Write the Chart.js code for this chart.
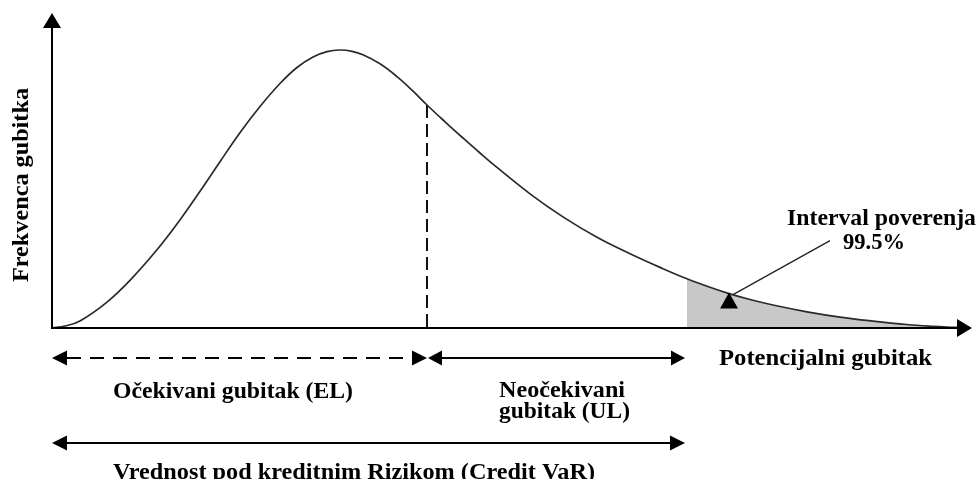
<!DOCTYPE html>
<html>
<head>
<meta charset="utf-8">
<script src="https://cdn.jsdelivr.net/npm/chart.js@4/dist/chart.umd.min.js"></script>
<style>
  html, body { margin: 0; padding: 0; background: #fff; }
  #wrap { width: 977px; height: 479px; position: relative; }
</style>
</head>
<body>
<div id="wrap"><canvas id="c"></canvas></div>
<script>
// ---- data ----
const lossX = [0, 1.41, 3.04, 5.98, 8.48, 11.41, 13.91, 16.09, 18.26, 20.43, 22.61, 24.78, 26.63, 28.37, 29.89, 31.30, 32.61, 33.80, 35.65, 37.50, 39.13, 40.76, 42.72, 44.67, 46.52, 48.37, 51.96, 55.54, 59.24, 62.83, 66.41, 69.02, 71.52, 73.59, 75.87, 78.37, 82.07, 85.65, 89.24, 92.93, 95.76, 98.15, 99.46];
const freqY = [0, 0.63, 2.22, 8.22, 15.14, 24.83, 34.32, 43.40, 52.79, 62.00, 70.32, 77.62, 82.70, 86.03, 87.75, 88.25, 87.84, 86.73, 83.87, 79.81, 75.52, 70.79, 65.46, 60.32, 55.56, 50.98, 42.60, 35.27, 28.79, 23.56, 18.83, 15.62, 12.92, 10.92, 9.05, 7.30, 5.14, 3.46, 2.19, 1.11, 0.54, 0.19, 0];
const expectedLoss = 40.76;  // EL boundary (dashed line)
const creditVaR = 69.02;     // start of the 99.5% tail
const pointerAt = [73.59, 10.92];
const axisMax = 100;
const freqMax = 100;

const yAxisTitle = "Frekvenca gubitka";
const xAxisTitle = "Potencijalni gubitak";
const tailLabel = ["Interval poverenja", "99.5%"];
const elLabel = "Očekivani gubitak (EL)";
const ulLabel = ["Neočekivani", "gubitak (UL)"];
const varLabel = "Vrednost pod kreditnim Rizikom (Credit VaR)";

// ---- derived datasets ----
const curve = lossX.map((x, i) => ({ x, y: freqY[i] }));
const tail = curve.filter(p => p.x >= creditVaR);
const elIdx = lossX.indexOf(expectedLoss);
const elLine = [{ x: expectedLoss, y: freqY[elIdx] }, { x: expectedLoss, y: 0 }];

const FONT = "bold 23px 'Liberation Serif', 'Times New Roman', serif";

function stretchText(ctx, text, left, baseline, width) {
  ctx.save();
  ctx.font = FONT;
  ctx.textBaseline = 'alphabetic';
  ctx.textAlign = 'left';
  const w = ctx.measureText(text).width;
  ctx.translate(left, baseline);
  ctx.scale(width / w, 1);
  ctx.fillStyle = '#000';
  ctx.fillText(text, 0, 0);
  ctx.restore();
}

function head(ctx, tx, ty, dx, dy, len, hw) {
  const bx = tx - dx * len, by = ty - dy * len;
  const px = -dy, py = dx;
  ctx.beginPath();
  ctx.moveTo(tx, ty);
  ctx.lineTo(bx + px * hw, by + py * hw);
  ctx.lineTo(bx - px * hw, by - py * hw);
  ctx.closePath();
  ctx.fill();
}

function hArrow(ctx, x1, x2, y, dashed, hl, hw) {
  ctx.save();
  ctx.strokeStyle = '#000';
  ctx.fillStyle = '#000';
  ctx.lineWidth = 2;
  if (dashed) ctx.setLineDash([14, 9]);
  ctx.beginPath();
  ctx.moveTo(x1 + hl, y);
  ctx.lineTo(x2 - hl, y);
  ctx.stroke();
  ctx.setLineDash([]);
  head(ctx, x1, y, -1, 0, hl, hw);
  head(ctx, x2, y, 1, 0, hl, hw);
  ctx.restore();
}

const overlay = {
  id: 'overlay',
  afterDatasetsDraw(chart) {
    const ctx = chart.ctx;
    const xs = chart.scales.x, ys = chart.scales.y;
    const x0 = xs.getPixelForValue(0), xEnd = xs.getPixelForValue(axisMax);
    const y0 = ys.getPixelForValue(0), yTop = ys.getPixelForValue(freqMax);
    const xEL = xs.getPixelForValue(expectedLoss);
    const xVaR = xs.getPixelForValue(creditVaR);

    ctx.save();
    ctx.strokeStyle = '#000';
    ctx.fillStyle = '#000';
    ctx.lineWidth = 2;
    // y axis
    ctx.beginPath();
    ctx.moveTo(x0, y0 + 1);
    ctx.lineTo(x0, yTop + 14);
    ctx.stroke();
    head(ctx, x0, yTop, 0, -1, 15, 9);
    // x axis
    ctx.beginPath();
    ctx.moveTo(x0 - 1, y0);
    ctx.lineTo(xEnd - 14, y0);
    ctx.stroke();
    head(ctx, xEnd, y0, 1, 0, 15, 9);

    // range arrows under the axis
    hArrow(ctx, x0, xEL, y0 + 30, true, 15, 7.5);
    hArrow(ctx, xEL + 1, xVaR - 2, y0 + 30, false, 14, 7.5);
    hArrow(ctx, x0, xVaR - 2, y0 + 115, false, 15, 7.5);

    // pointer to the tail
    const tx = xs.getPixelForValue(pointerAt[0]);
    const ty = ys.getPixelForValue(pointerAt[1]) - 1;
    ctx.lineWidth = 1.3;
    ctx.strokeStyle = '#222';
    ctx.beginPath();
    ctx.moveTo(tx + 101, ty - 52);
    ctx.lineTo(tx + 4, ty + 2);
    ctx.stroke();
    ctx.fillStyle = '#000';
    ctx.beginPath();
    ctx.moveTo(tx, ty);
    ctx.lineTo(tx + 9, ty + 16);
    ctx.lineTo(tx - 9, ty + 16);
    ctx.closePath();
    ctx.fill();
    ctx.restore();

    // texts
    stretchText(ctx, tailLabel[0], 787, 225, 189);
    stretchText(ctx, tailLabel[1], 843, 249, 62);
    stretchText(ctx, xAxisTitle, 719, 365, 213);
    stretchText(ctx, ulLabel[0], 499, 397, 126);
    stretchText(ctx, ulLabel[1], 499, 418, 131);
    stretchText(ctx, elLabel, 113, 398, 240);
    stretchText(ctx, varLabel, 113, 479, 482);

    // rotated y title
    ctx.save();
    ctx.translate(28, 282);
    ctx.rotate(-Math.PI / 2);
    stretchText(ctx, yAxisTitle, 0, 0, 194);
    ctx.restore();
  }
};

new Chart(document.getElementById('c'), {
  type: 'line',
  data: {
    datasets: [
      {
        data: tail,
        borderWidth: 0,
        borderColor: 'rgba(0,0,0,0)',
        backgroundColor: '#c8c8c8',
        fill: 'origin',
        pointRadius: 0,
        tension: 0.4,
        order: 3
      },
      {
        data: curve,
        borderColor: '#2a2a2a',
        borderWidth: 1.7,
        fill: false,
        pointRadius: 0,
        tension: 0.4,
        order: 1
      },
      {
        data: elLine,
        borderColor: '#111',
        borderWidth: 2,
        borderDash: [13, 6],
        fill: false,
        pointRadius: 0,
        tension: 0,
        order: 2
      }
    ]
  },
  options: {
    responsive: true,
    maintainAspectRatio: false,
    animation: false,
    layout: { padding: { left: 52, top: 13, right: 5, bottom: 151 } },
    scales: {
      x: { type: 'linear', min: 0, max: axisMax, display: false },
      y: { type: 'linear', min: 0, max: freqMax, display: false }
    },
    plugins: {
      legend: { display: false },
      tooltip: { enabled: false }
    },
    events: []
  },
  plugins: [overlay]
});
</script>
</body>
</html>
